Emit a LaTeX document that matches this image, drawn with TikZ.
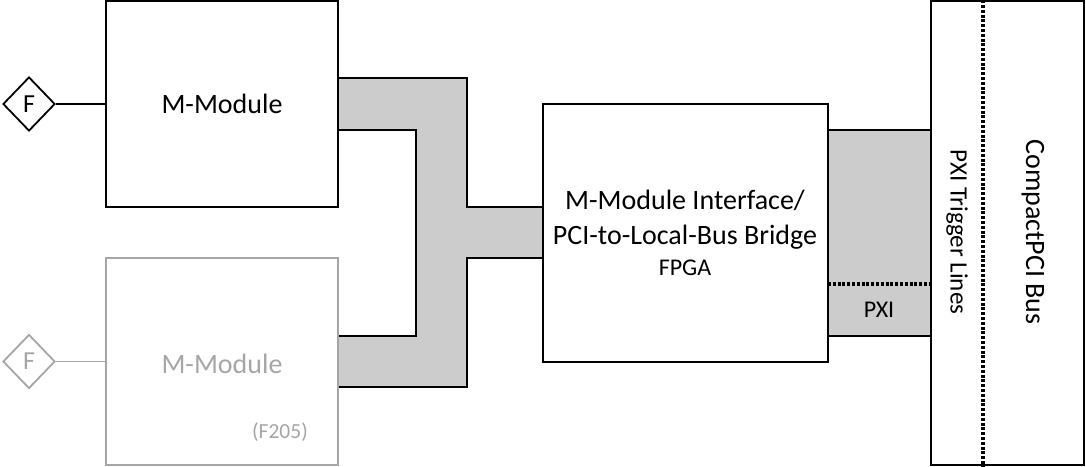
\documentclass[tikz,border=0pt]{standalone}
\usepackage{fontspec}
\setmainfont{Carlito}
\usetikzlibrary{shapes.geometric}
\definecolor{busfill}{RGB}{204,204,204}
\definecolor{faded}{RGB}{166,166,166}
\tikzset{
  blk/.style={draw=black, line width=1.8pt, fill=white, inner sep=0pt},
  fadedblk/.style={draw=faded, line width=1.8pt, fill=white, inner sep=0pt, text=faded},
  fdia/.style={diamond, draw=black, line width=1.8pt, fill=white, minimum width=52pt, minimum height=54pt, inner sep=0pt, font=\fontsize{26}{30}\selectfont},
  wire/.style={line width=1.8pt},
  busline/.style={line width=1.8pt, line join=miter},
  dots/.style={line width=3.2pt, dash pattern=on 3pt off 1.8pt},
  big/.style={font=\fontsize{28}{34}\selectfont},
}
\begin{document}
\begin{tikzpicture}[x=1pt,y=-1pt]
\useasboundingbox (0,0) rectangle (1086,466);
% gray bus shape between modules and FPGA
\fill[busfill] (338,78) -- (467,78) -- (467,207) -- (543,207) -- (543,258) -- (467,258) -- (467,387) -- (338,387) -- (338,336) -- (416,336) -- (416,130) -- (338,130) -- cycle;
\draw[busline] (338,78) -- (467,78) -- (467,207) -- (543,207);
\draw[busline] (543,258) -- (467,258) -- (467,387) -- (338,387);
\draw[busline] (338,336) -- (416,336) -- (416,130) -- (338,130);
% PXI bus block
\draw[busline, fill=busfill] (828,130) rectangle (931,336);
\draw[dots] (828,284) -- (931,284);
\node[font=\fontsize{24}{28}\selectfont, anchor=base, inner sep=0pt] (pxi) at (879,317) {PXI};
% modules
\node[blk, minimum width=232pt, minimum height=206pt, big] (mod1) at (222,104) {M-Module};
\node[fadedblk, minimum width=232pt, minimum height=207pt] (mod2) at (222,361.5) {};
\node[text=faded, big] (mod2t) at (222,364) {M-Module};
\node[text=faded, font=\fontsize{21.5}{24}\selectfont] (f205) at (280,432) {(F205)};
% diamonds
\node[fdia] (d1) at (29,104) {F};
\node[fdia, draw=faded, text=faded] (d2) at (29,361.5) {F};
\draw[wire] (d1.east) -- (mod1.west);
\draw[wire, faded] (d2.east) -- (mod2.west);
% FPGA
\node[blk, minimum width=285pt, minimum height=258pt] (fpga) at (685.5,233) {};
\node[big, anchor=base, inner sep=0pt] (fl1) at (685,209) {M-Module Interface/};
\node[big, anchor=base, inner sep=0pt] (fl2) at (685,244) {PCI-to-Local-Bus Bridge};
\node[font=\fontsize{24}{28}\selectfont, anchor=base, inner sep=0pt] (fl3) at (685,275) {FPGA};
% CompactPCI
\node[blk, minimum width=153pt, minimum height=464pt, fill=none] (cpci) at (1007.5,233) {};
\draw[dots] (cpci.north -| 983,0) -- (cpci.south -| 983,0);
\node[rotate=-90, font=\fontsize{25}{28}\selectfont] (trig) at (957,232) {PXI Trigger Lines};
\node[rotate=-90, big] (cbus) at (1033,232) {CompactPCI Bus};
\end{tikzpicture}
\end{document}
